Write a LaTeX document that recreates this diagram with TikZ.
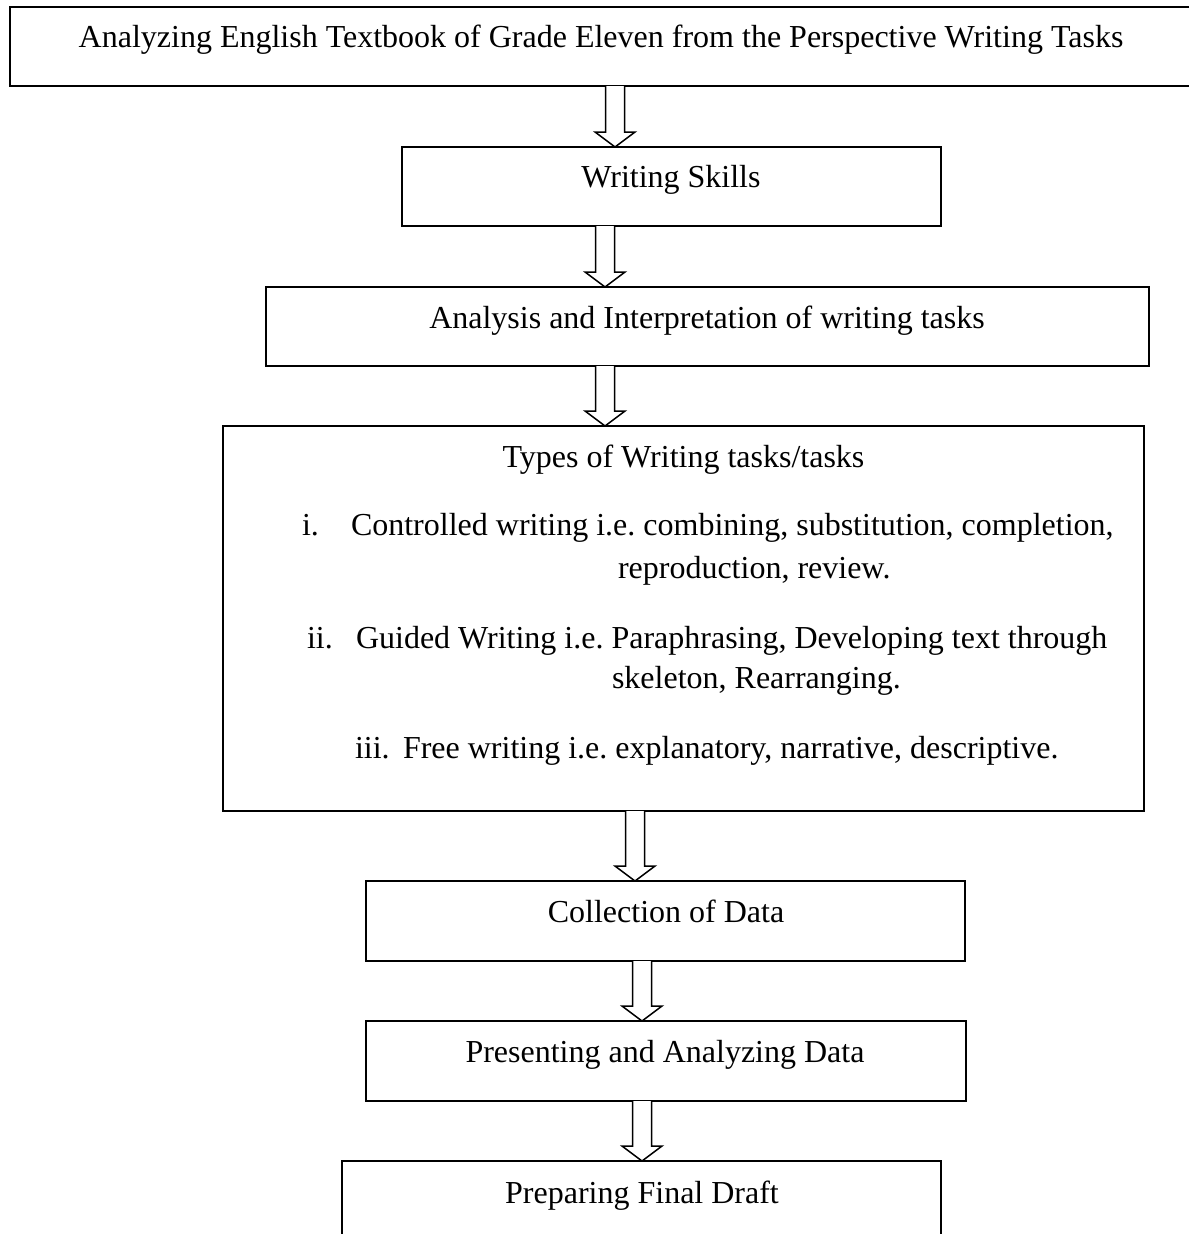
\documentclass[tikz,border=0pt]{standalone}
\usepackage{fontspec}
\setmainfont{Liberation Serif}
\frenchspacing
\usetikzlibrary{calc}
\tikzset{
  box/.style={draw=black, line width=1.8pt, rectangle, inner sep=0pt, outer sep=0pt, anchor=north west},
  frame/.style={inner sep=0pt, outer sep=0pt, anchor=north west},
  edge/.style={draw=black, line width=1.8pt},
  txt/.style={inner sep=0pt, outer sep=0pt, font=\fontsize{32}{38}\selectfont, anchor=base},
  txtl/.style={txt, anchor=base west},
  hollow/.style={draw=black, line width=1.5pt, fill=white, line join=miter}
}
\newcommand\hollowarrow[3]{%
  \draw[hollow] let \p1=(#1.south), \p2=(#2.north) in
    (#3pt-9.5pt,\y1) -- (#3pt-9.5pt,\y2+15pt) -- (#3pt-20pt,\y2+15pt) -- (#3pt,\y2)
    -- (#3pt+20pt,\y2+15pt) -- (#3pt+9.5pt,\y2+15pt) -- (#3pt+9.5pt,\y1);}
\begin{document}
\begin{tikzpicture}[x=1pt, y=-1pt]
\useasboundingbox (0,0) rectangle (1189,1234);

% boxes
\node[frame, minimum width=1179pt, minimum height=79pt] (b1) at (10,7) {};
\draw[edge] (b1.north east) -- (b1.north west) -- (b1.south west) -- (b1.south east);
\node[box, minimum width=539pt, minimum height=79pt] (b2) at (402,147) {};
\node[box, minimum width=883pt, minimum height=79pt] (b3) at (266,287) {};
\node[box, minimum width=921pt, minimum height=385pt] (b4) at (223,426) {};
\node[box, minimum width=599pt, minimum height=80pt] (b5) at (366,881) {};
\node[box, minimum width=600pt, minimum height=80pt] (b6) at (366,1021) {};
\node[frame, minimum width=599pt, minimum height=73pt] (b7) at (342,1161) {};
\draw[edge] (b7.south west) -- (b7.north west) -- (b7.north east) -- (b7.south east);

% texts
\node[txt] (t1) at (601,47) {Analyzing English Textbook of Grade Eleven from the Perspective Writing Tasks};
\node[txt] (t2) at (671,187) {Writing Skills};
\node[txt] (t3) at (707,328) {Analysis and Interpretation of writing tasks};
\node[txt] (t4) at (683.5,467) {Types of Writing tasks/tasks};
\node[txtl] (i1) at (302,535) {i.};
\node[txtl] (i1a) at (351,535) {Controlled writing i.e. combining, substitution, completion,};
\node[txtl] (i1b) at (618,578) {reproduction, review.};
\node[txtl] (i2) at (307,648) {ii.};
\node[txtl] (i2a) at (356,648) {Guided Writing i.e. Paraphrasing, Developing text through};
\node[txtl] (i2b) at (612,688) {skeleton, Rearranging.};
\node[txtl] (i3) at (355,758) {iii.};
\node[txtl] (i3a) at (403,758) {Free writing i.e. explanatory, narrative, descriptive.};
\node[txt] (t5) at (666,922) {Collection of Data};
\node[txt] (t6) at (665,1062) {Presenting and Analyzing Data};
\node[txt] (t7) at (642,1203) {Preparing Final Draft};

% arrows
\hollowarrow{b1}{b2}{615}
\hollowarrow{b2}{b3}{605}
\hollowarrow{b3}{b4}{605}
\hollowarrow{b4}{b5}{635}
\hollowarrow{b5}{b6}{642}
\hollowarrow{b6}{b7}{642}
\end{tikzpicture}
\end{document}
